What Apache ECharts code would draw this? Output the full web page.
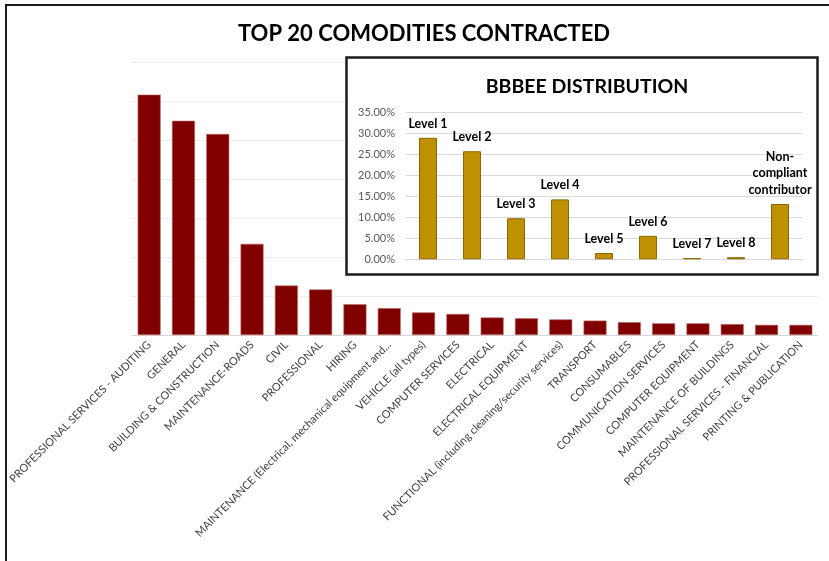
<!DOCTYPE html>
<html>
<head>
<meta charset="utf-8">
<script src="https://cdn.jsdelivr.net/npm/echarts@6/dist/echarts.min.js"></script>
<style>
  html, body { margin: 0; padding: 0; background: #fff; }
  #chart { width: 829px; height: 561px; }
</style>
</head>
<body>
<div id="chart"></div>
<script>
// Top 20 commodities contracted (relative contract value, one unit per gridline)
const commodityNames = [
  'PROFESSIONAL SERVICES - AUDITING',
  'GENERAL',
  'BUILDING & CONSTRUCTION',
  'MAINTENANCE-ROADS',
  'CIVIL',
  'PROFESSIONAL',
  'HIRING',
  'MAINTENANCE (Electrical, mechanical equipment and...',
  'VEHICLE (all types)',
  'COMPUTER SERVICES',
  'ELECTRICAL',
  'ELECTRICAL EQUIPMENT',
  'FUNCTIONAL (including cleaning/security services)',
  'TRANSPORT',
  'CONSUMABLES',
  'COMMUNICATION SERVICES',
  'COMPUTER EQUIPMENT',
  'MAINTENANCE OF BUILDINGS',
  'PROFESSIONAL SERVICES - FINANCIAL',
  'PRINTING & PUBLICATION'
];
const commodityValues = [
  6.17, 5.50, 5.16, 2.34, 1.27, 1.17, 0.79, 0.69, 0.58, 0.54,
  0.45, 0.43, 0.40, 0.37, 0.33, 0.30, 0.30, 0.28, 0.26, 0.26
];

// B-BBEE level distribution of suppliers (percent)
const bbbeeLevels = [
  'Level 1', 'Level 2', 'Level 3', 'Level 4', 'Level 5',
  'Level 6', 'Level 7', 'Level 8', 'Non-\ncompliant\ncontributor'
];
const bbbeeShares = [29.0, 25.8, 9.8, 14.3, 1.5, 5.6, 0.3, 0.5, 13.2];
const bbbeeTicks = [0, 5, 10, 15, 20, 25, 30, 35];

const FONT = 'Lato';
const chart = echarts.init(document.getElementById('chart'), null, { renderer: 'canvas' });

chart.setOption({
  backgroundColor: '#ffffff',
  animation: false,
  textStyle: { fontFamily: FONT },
  title: [
    {
      text: 'TOP 20 COMODITIES CONTRACTED',
      left: 419, top: 18, textAlign: 'center',
      textStyle: { fontFamily: FONT, fontSize: 22, fontWeight: 'bold', color: '#000' }
    },
    {
      text: 'BBBEE DISTRIBUTION',
      left: 582, top: 72, textAlign: 'center',
      textStyle: { fontFamily: FONT, fontSize: 19.5, fontWeight: 'bold', color: '#000' }
    }
  ],
  graphic: [
    {
      type: 'rect', z: 0,
      shape: { x: 6, y: 5, width: 900, height: 700 },
      style: { fill: 'none', stroke: '#1a1a1a', lineWidth: 2 }
    },
    {
      type: 'rect', z: 5,
      shape: { x: 346.5, y: 57.5, width: 471, height: 217 },
      style: { fill: '#ffffff', stroke: '#1a1a1a', lineWidth: 2.5 }
    }
  ],
  grid: [
    { left: 132, right: 11, top: 62.3, bottom: 226 },
    { left: 406, right: 27, top: 112.7, bottom: 301.7 }
  ],
  xAxis: [
    {
      type: 'category', gridIndex: 0, data: commodityNames,
      axisTick: { show: false },
      axisLine: { lineStyle: { color: '#d4d4d4', width: 1 } },
      axisLabel: {
        interval: 0, rotate: 45, margin: 8,
        fontFamily: FONT, fontSize: 11, color: '#404040'
      }
    },
    {
      type: 'category', gridIndex: 1, data: bbbeeLevels, z: 6,
      axisTick: { show: false },
      axisLine: { lineStyle: { color: '#d9d9d9', width: 1 } },
      axisLabel: { show: false }
    }
  ],
  yAxis: [
    {
      type: 'value', gridIndex: 0, min: 0, max: 7, interval: 1,
      axisLabel: { show: false },
      axisLine: { show: false }, axisTick: { show: false },
      splitLine: { lineStyle: { color: '#ececec', width: 1 } }
    },
    {
      type: 'value', gridIndex: 1, min: bbbeeTicks[0], max: bbbeeTicks[bbbeeTicks.length - 1],
      interval: bbbeeTicks[1] - bbbeeTicks[0], z: 6,
      axisLine: { show: false }, axisTick: { show: false },
      axisLabel: {
        margin: 11, fontFamily: FONT, fontSize: 11, color: '#595959',
        formatter: v => v.toFixed(2) + '%'
      },
      splitLine: { lineStyle: { color: '#d9d9d9', width: 1 } }
    }
  ],
  series: [
    {
      type: 'bar', xAxisIndex: 0, yAxisIndex: 0, z: 2,
      data: commodityValues,
      barWidth: 23,
      itemStyle: { color: '#800000', borderColor: '#b86a6a', borderWidth: 0.6 }
    },
    {
      type: 'bar', xAxisIndex: 1, yAxisIndex: 1, z: 7,
      data: bbbeeShares,
      barWidth: 18,
      itemStyle: { color: '#bf9000', borderColor: '#8a6800', borderWidth: 1 },
      label: {
        show: true, position: 'top', distance: 6,
        formatter: p => bbbeeLevels[p.dataIndex],
        fontFamily: FONT, fontSize: 12.5, fontWeight: 'bold', color: '#000',
        lineHeight: 16.5
      }
    }
  ]
});
</script>
</body>
</html>
